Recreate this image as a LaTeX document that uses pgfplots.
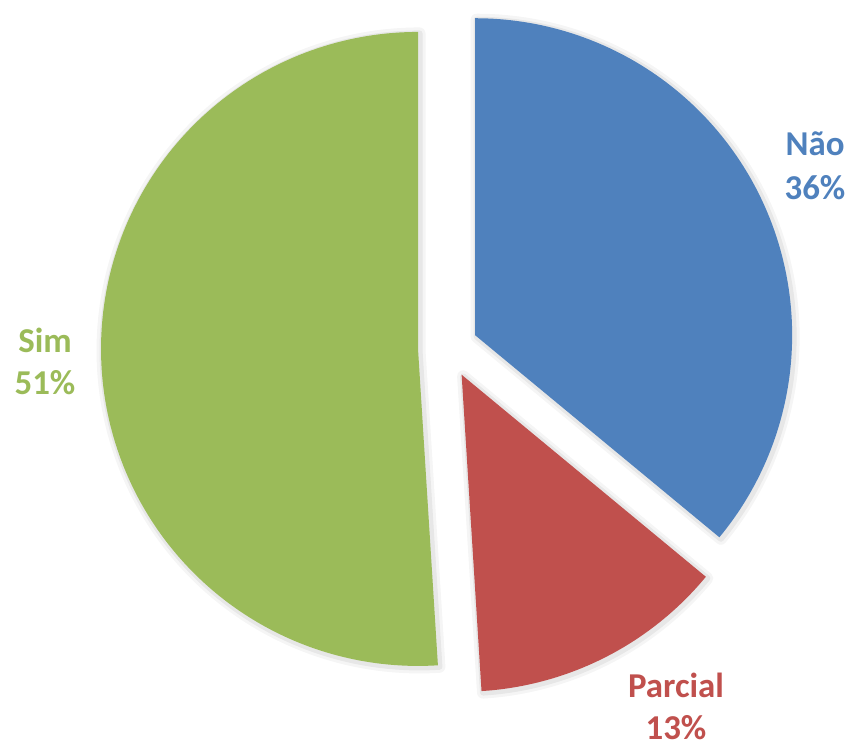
\documentclass[border=0pt]{standalone}
\usepackage{pgfplots}
\pgfplotsset{compat=1.18}
\usepackage{fontspec}
\setmainfont{Carlito}
\definecolor{cBlue}{HTML}{4F81BD}
\definecolor{cRed}{HTML}{C0504D}
\definecolor{cGreen}{HTML}{9BBB59}
\begin{document}
\begin{tikzpicture}
% data (percent)
\def\vNao{36}\def\vPar{13}\def\vSim{51}
% geometry (pixel units)
\def\cx{448}\def\cy{403}\def\r{317}\def\d{30}
\pgfmathsetmacro{\aA}{90}
\pgfmathsetmacro{\aB}{\aA-3.6*\vNao}
\pgfmathsetmacro{\aC}{\aB-3.6*\vPar}
\pgfmathsetmacro{\aD}{\aC-3.6*\vSim}
\pgfmathsetmacro{\mA}{(\aA+\aB)/2}
\pgfmathsetmacro{\mB}{(\aB+\aC)/2}
\pgfmathsetmacro{\mC}{(\aC+\aD)/2}
\pgfmathsetmacro{\pxA}{\cx+\d*cos(\mA)}\pgfmathsetmacro{\pyA}{\cy+\d*sin(\mA)}
\pgfmathsetmacro{\pxB}{\cx+\d*cos(\mB)}\pgfmathsetmacro{\pyB}{\cy+\d*sin(\mB)}
\pgfmathsetmacro{\pxC}{\cx+\d*cos(\mC)}\pgfmathsetmacro{\pyC}{\cy+\d*sin(\mC)}
\begin{axis}[width=848bp,height=751bp,scale only axis,
  xmin=0,xmax=848,ymin=0,ymax=751,hide axis,clip=false]
% shadows
\addplot[draw=black,opacity=0.04,line width=12bp,fill=none,domain=\aB:\aA,samples=120,line join=round]
  ({\pxA+1.5+\r*cos(x)},{\pyA-1.5+\r*sin(x)}) -- (axis cs:\pxA+1.5,\pyA-1.5) -- cycle;
\addplot[draw=black,opacity=0.06,line width=6bp,fill=none,domain=\aB:\aA,samples=120,line join=round]
  ({\pxA+1.5+\r*cos(x)},{\pyA-1.5+\r*sin(x)}) -- (axis cs:\pxA+1.5,\pyA-1.5) -- cycle;
\addplot[draw=black,opacity=0.04,line width=12bp,fill=none,domain=\aC:\aB,samples=60,line join=round]
  ({\pxB+1.5+\r*cos(x)},{\pyB-1.5+\r*sin(x)}) -- (axis cs:\pxB+1.5,\pyB-1.5) -- cycle;
\addplot[draw=black,opacity=0.06,line width=6bp,fill=none,domain=\aC:\aB,samples=60,line join=round]
  ({\pxB+1.5+\r*cos(x)},{\pyB-1.5+\r*sin(x)}) -- (axis cs:\pxB+1.5,\pyB-1.5) -- cycle;
\addplot[draw=black,opacity=0.04,line width=12bp,fill=none,domain=\aD:\aC,samples=160,line join=round]
  ({\pxC+1.5+\r*cos(x)},{\pyC-1.5+\r*sin(x)}) -- (axis cs:\pxC+1.5,\pyC-1.5) -- cycle;
\addplot[draw=black,opacity=0.06,line width=6bp,fill=none,domain=\aD:\aC,samples=160,line join=round]
  ({\pxC+1.5+\r*cos(x)},{\pyC-1.5+\r*sin(x)}) -- (axis cs:\pxC+1.5,\pyC-1.5) -- cycle;
% slices
\addplot[draw=none,fill=cBlue,domain=\aB:\aA,samples=120]
  ({\pxA+\r*cos(x)},{\pyA+\r*sin(x)}) -- (axis cs:\pxA,\pyA) -- cycle;
\addplot[draw=none,fill=cRed,domain=\aC:\aB,samples=60]
  ({\pxB+\r*cos(x)},{\pyB+\r*sin(x)}) -- (axis cs:\pxB,\pyB) -- cycle;
\addplot[draw=none,fill=cGreen,domain=\aD:\aC,samples=160]
  ({\pxC+\r*cos(x)},{\pyC+\r*sin(x)}) -- (axis cs:\pxC,\pyC) -- cycle;
% labels
\begin{scope}[every node/.style={font=\bfseries\fontsize{35}{42}\selectfont,anchor=base,inner sep=0pt}]
\node[text=cBlue] at (axis cs:815,595) {Não};
\node[text=cBlue] at (axis cs:815,551) {36\%};
\node[text=cGreen] at (axis cs:45,398) {Sim};
\node[text=cGreen] at (axis cs:45,356) {51\%};
\node[text=cRed] at (axis cs:676,53) {Parcial};
\node[text=cRed] at (axis cs:676,12) {13\%};
\end{scope}
\end{axis}
\pgfresetboundingbox
\useasboundingbox (0,0) rectangle (848bp,751bp);
\end{tikzpicture}
\end{document}
